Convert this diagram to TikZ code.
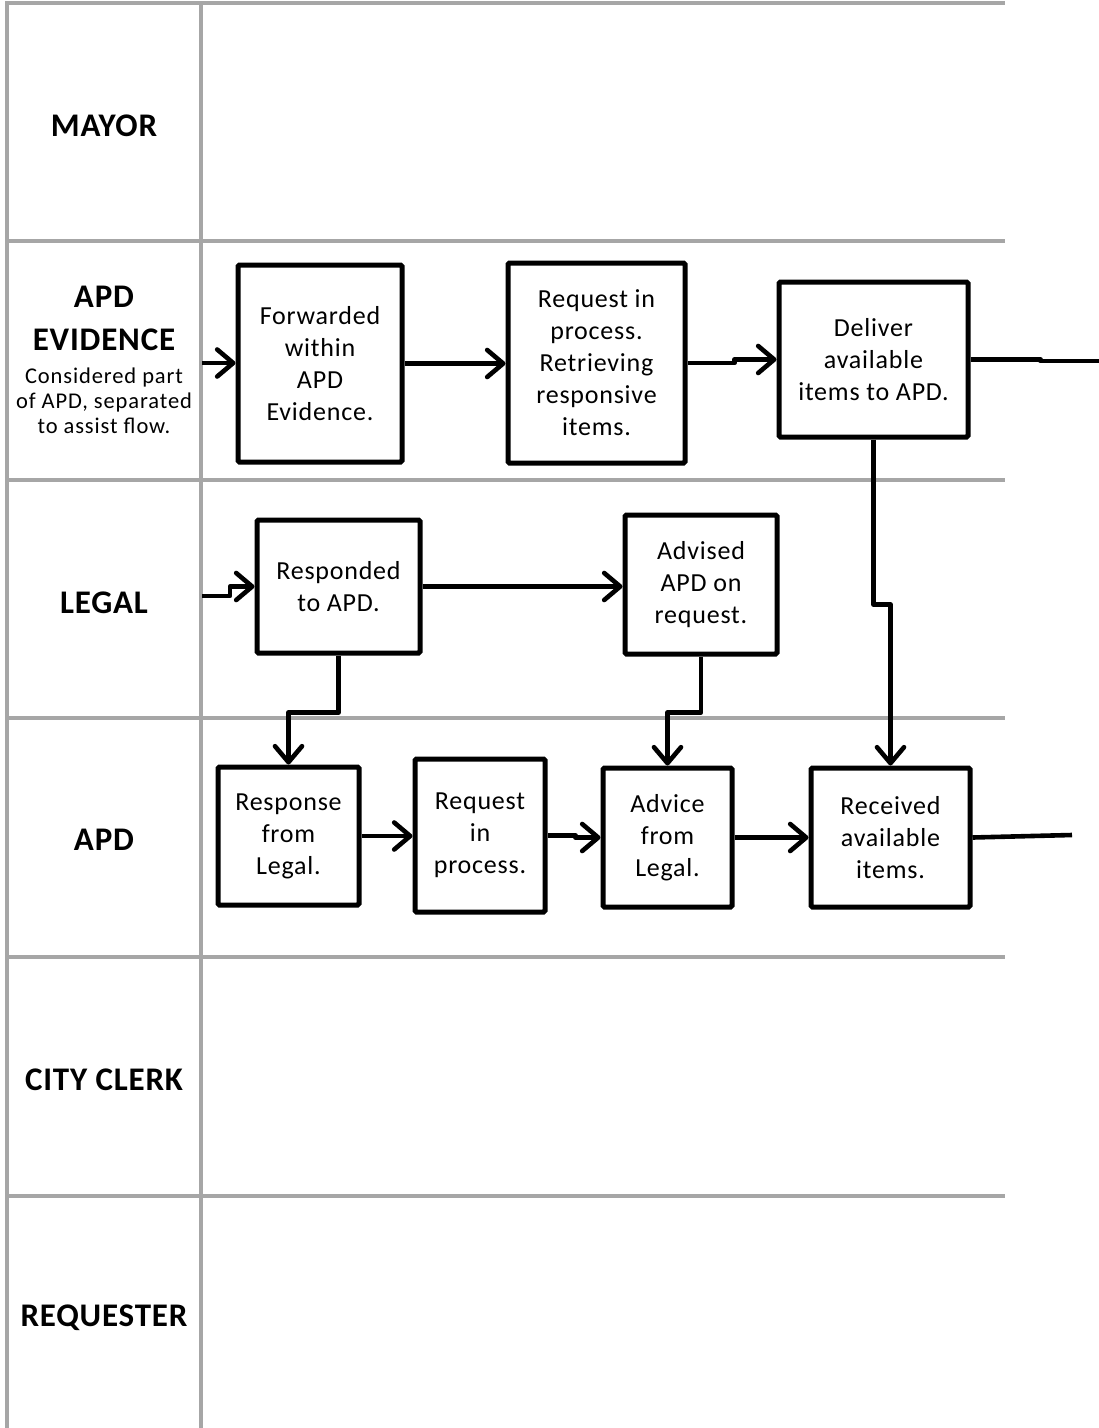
\documentclass[tikz,border=0pt]{standalone}
\usepackage{fontspec}
\setmainfont{Carlito}
\newfontfamily\boxfont[LetterSpace=3]{Carlito}
\newfontfamily\titlefont[LetterSpace=2.5]{Carlito}
\newfontfamily\notefont[LetterSpace=4]{Carlito}
\usetikzlibrary{arrows.meta}
\definecolor{gridgrey}{HTML}{A6A6A6}
\begin{document}
\begin{tikzpicture}[x=1pt,y=-1pt,
  lane/.style={draw=gridgrey, line width=3.3pt},
  procbox/.style={draw, line width=5pt, rounded corners=1.5pt, align=center,
    inner sep=2pt, fill=white, font=\boxfont\fontsize{26}{32}\selectfont},
  conn/.style={line width=4.6pt, line join=round},
  flow/.style={conn, -{Straight Barb[length=16pt,width=27pt,line cap=round,line join=round]}},
  lanetitle/.style={font=\titlefont\bfseries\fontsize{33}{43}\selectfont, align=center},
  lanenote/.style={font=\notefont\fontsize{22.5}{25}\selectfont, align=center}]
\useasboundingbox (0,0) rectangle (1099,1428);

% swimlane grid
\foreach \yy in {3,241,480,718,957,1196}
  \draw[lane] (5,\yy) -- (1005,\yy);
\draw[lane] (7,3) -- (7,1428);
\draw[lane] (201,3) -- (201,1428);

% lane titles
\node[lanetitle] (tMayor) at (104,126) {MAYOR};
\node[lanetitle] (tEvidence) at (104,318.5) {APD\\EVIDENCE};
\node[lanenote] (nEvidence) at (104,401) {Considered part\\of APD, separated\\to assist flow.};
\node[lanetitle] (tLegal) at (104,603) {LEGAL};
\node[lanetitle] (tApd) at (104,840) {APD};
\node[lanetitle] (tClerk) at (104,1080) {CITY CLERK};
\node[lanetitle] (tRequester) at (104,1318) {REQUESTER};

% APD Evidence lane
\node[procbox, minimum width=164pt, minimum height=197pt] (fwd) at (320,363.5)
  {Forwarded\\within\\APD\\Evidence.};
\node[procbox, minimum width=177pt, minimum height=200pt] (req1) at (596.5,363)
  {Request in\\process.\\Retrieving\\responsive\\items.};
\node[procbox, minimum width=189pt, minimum height=155pt] (del) at (873.5,359.5)
  {Deliver\\available\\items to APD.};

% Legal lane
\node[procbox, minimum width=163pt, minimum height=133pt] (resp) at (338.5,586.5)
  {Responded\\to APD.};
\node[procbox, minimum width=152pt, minimum height=139pt] (adv) at (701,584.5)
  {Advised\\APD on\\request.};

% APD lane
\node[procbox, minimum width=141pt, minimum height=138pt] (rfl) at (288.5,836)
  {Response\\from\\Legal.};
\node[procbox, minimum width=130pt, minimum height=153pt] (rip) at (480,835.5)
  {Request\\in\\process.};
\node[procbox, minimum width=129pt, minimum height=139pt] (afl) at (667.5,837.5)
  {Advice\\from\\Legal.};
\node[procbox, minimum width=159pt, minimum height=139pt] (rai) at (890.5,837.5)
  {Received\\available\\items.};

% loose ends of the flow
\coordinate (evIn) at (202,363);
\coordinate (legIn) at (202,596);
\coordinate (delOut) at (1099,361);
\coordinate (raiOut) at (1072,835);

% connectors
\draw[flow] (evIn) -- (evIn -| fwd.west);
\draw[flow] (fwd.east) -- (fwd.east -| req1.west);
\draw[flow] (req1.east) -- ++(47,0) |- (del.west);
\draw[conn] (del.east) -- ++(70,0) |- (delOut);
\draw[flow] (del.south) -- ++(0,165) -| (rai.north);

\draw[flow] (legIn) -- ++(28,0) |- (resp.west);
\draw[flow] (resp.east) -- (resp.east -| adv.west);
\draw[flow] (resp.south) -- ++(0,57) -| (rfl.north);
\draw[flow] (adv.south) -- ++(0,56) -| (afl.north);

\draw[flow] (rfl.east) -- (rfl.east -| rip.west);
\draw[flow] (rip.east) -- ++(28,0) |- (afl.west);
\draw[flow] (afl.east) -- (afl.east -| rai.west);
\draw[conn] (rai.east) -- (raiOut);
\end{tikzpicture}
\end{document}
